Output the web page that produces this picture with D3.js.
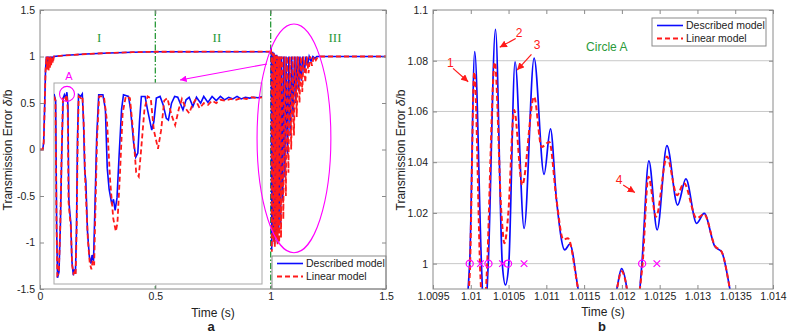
<!DOCTYPE html>
<html>
<head>
<meta charset="utf-8">
<script src="https://cdn.jsdelivr.net/npm/d3@7"></script>
<style>
  body { margin: 0; background: #fff; }
  svg { font-family: Arial, "Liberation Sans", sans-serif; }
</style>
</head>
<body>
<svg id="chart" width="790" height="334"></svg>
<script>
// ---------- data ----------

// panel a: main curves [time s, delta/b]
var mainBlue = [
  [0,0],[0.012,0],[0.016,0.08],[0.020,0.45],[0.024,0.86],[0.028,1.0],[0.031,0.9],[0.034,1.0],
  [0.037,0.91],[0.040,1.0],[0.043,0.93],[0.046,1.0],[0.049,0.95],[0.052,1.0],[0.056,0.97],[0.060,1.0],
  [0.1,1.01],[0.2,1.027],[0.3,1.038],[0.4,1.046],[0.5,1.051],[1.0,1.052],
  [1.0015,1.09],[1.003,1.0],[1.0045,-1.08],[1.006,1.0],[1.0085,1.05],[1.011,-0.95],[1.014,1.04],
  [1.017,-1.02],[1.020,1.02],[1.023,-0.9],[1.026,1.02],[1.029,-1.0],[1.032,1.0],[1.035,-0.85],
  [1.039,1.0],[1.043,-0.8],[1.047,1.0],[1.052,-0.55],[1.057,1.0],[1.062,-0.3],[1.067,1.0],
  [1.073,-0.05],[1.079,1.0],[1.085,0.15],[1.091,1.0],[1.097,0.35],[1.103,1.0],[1.109,0.5],
  [1.115,1.0],[1.121,0.63],[1.127,1.0],[1.133,0.74],[1.139,1.0],[1.146,0.83],[1.153,1.0],
  [1.160,0.9],[1.167,1.0],[1.175,0.95],[1.183,1.0],[1.192,0.98],[1.20,1.0],[1.5,1.0]
];
var mainRed = [
  [0,0],[0.012,0],[0.016,0.07],[0.020,0.42],[0.024,0.84],[0.028,1.0],[0.031,0.86],[0.034,1.0],
  [0.037,0.85],[0.040,1.0],[0.043,0.88],[0.046,1.0],[0.049,0.9],[0.052,1.0],[0.056,0.93],[0.060,1.0],
  [0.1,1.01],[0.2,1.027],[0.3,1.038],[0.4,1.046],[0.5,1.051],[1.0,1.052],
  [1.0015,1.08],[1.0035,1.0],[1.005,-1.1],[1.0065,1.0],[1.009,1.04],[1.012,-1.0],[1.015,1.03],
  [1.018,-1.05],[1.021,1.02],[1.024,-0.95],[1.027,1.01],[1.030,-1.02],[1.033,1.0],[1.037,-1.0],
  [1.041,1.0],[1.045,-0.95],[1.049,1.0],[1.055,-0.75],[1.060,1.0],[1.066,-0.5],[1.071,1.0],
  [1.077,-0.25],[1.083,1.0],[1.089,0.0],[1.095,1.0],[1.101,0.15],[1.107,1.0],[1.113,0.35],
  [1.119,1.0],[1.125,0.5],[1.131,1.0],[1.137,0.62],[1.143,1.0],[1.150,0.72],[1.157,1.0],
  [1.164,0.82],[1.171,1.0],[1.179,0.9],[1.187,1.0],[1.196,0.96],[1.205,1.0],[1.5,1.0]
];

// panel a: inset (zoomed view of region III)
var insetBlue = [
  [1.0000,1.03],[1.0016,0.95],[1.0026,-0.6],[1.0034,-1.15],[1.0048,-1.08],[1.0062,-0.5],[1.0074,0.3],
  [1.0088,0.98],[1.0100,1.02],[1.0112,0.98],[1.0124,1.05],[1.0134,0.9],[1.0142,-0.2],[1.0150,-0.35],
  [1.0162,-0.5],[1.0172,-0.95],[1.0186,-1.12],[1.0196,-1.05],[1.0206,-1.1],[1.0216,-0.6],[1.0226,0.5],
  [1.0236,1.02],[1.0256,1.0],[1.0272,1.03],[1.0284,0.7],[1.0296,0.1],[1.0306,0.0],[1.0322,-0.6],
  [1.0340,-0.9],[1.0356,-0.98],[1.0366,-0.88],[1.0380,-0.95],[1.0394,-0.3],[1.0410,0.5],[1.0430,1.02],
  [1.0470,1.02],[1.0494,0.85],[1.0512,0.15],[1.0530,-0.1],[1.0556,-0.28],[1.0572,-0.22],[1.0588,-0.35],
  [1.0606,-0.2],[1.0626,0.3],[1.0650,0.85],[1.0668,1.02],[1.0716,1.0],[1.0736,0.85],[1.0766,0.45],
  [1.0786,0.28],[1.0806,0.33],[1.0822,0.7],[1.0840,1.0],[1.0876,1.0],[1.0898,0.85],[1.0940,0.6],
  [1.0960,0.7],[1.0984,0.98],[1.1020,1.0],[1.1050,0.9],[1.1080,0.74],[1.1100,0.72],[1.1130,0.92],
  [1.1160,1.0],[1.1190,0.99],[1.1240,0.84],[1.1270,0.96],[1.1300,0.99],[1.1335,0.88],[1.1370,0.99],
  [1.1410,0.92],[1.1440,1.0],[1.1480,0.93],[1.1520,1.0],[1.1560,0.95],[1.1600,1.0],[1.1640,0.96],
  [1.1680,0.99],[1.1720,0.97],[1.1760,1.0],[1.1800,0.97],[1.1840,0.99],[1.1880,0.98],[1.1920,0.99],
  [1.1960,0.985],[1.2000,0.995]
];
var insetRed = [
  [1.0000,1.0],[1.0014,0.95],[1.0024,-0.5],[1.0032,-1.12],[1.0046,-1.1],[1.0060,-0.55],[1.0072,0.25],
  [1.0086,0.98],[1.0100,1.0],[1.0112,0.97],[1.0122,1.02],[1.0132,0.85],[1.0140,-0.25],[1.0150,-0.4],
  [1.0162,-0.55],[1.0174,-1.0],[1.0188,-1.1],[1.0198,-1.08],[1.0208,-1.12],[1.0218,-0.55],[1.0228,0.5],
  [1.0238,1.0],[1.0258,0.98],[1.0274,1.0],[1.0288,0.6],[1.0300,0.0],[1.0326,-0.7],[1.0344,-0.98],
  [1.0360,-1.05],[1.0372,-0.95],[1.0386,-1.0],[1.0398,-0.35],[1.0414,0.5],[1.0434,1.0],[1.0480,1.0],
  [1.0510,0.7],[1.0540,0.0],[1.0570,-0.45],[1.0595,-0.6],[1.0610,-0.5],[1.0635,0.1],[1.0660,0.8],
  [1.0690,1.0],[1.0730,0.98],[1.0760,0.6],[1.0790,0.1],[1.0815,0.05],[1.0840,0.4],[1.0870,0.85],
  [1.0900,1.0],[1.0930,0.98],[1.0960,0.6],[1.1000,0.38],[1.1030,0.6],[1.1060,0.95],[1.1090,0.98],
  [1.1130,0.78],[1.1165,0.66],[1.1200,0.85],[1.1230,0.97],[1.1270,0.85],[1.1300,0.8],[1.1330,0.9],
  [1.1360,0.96],[1.1400,0.86],[1.1440,0.92],[1.1480,0.9],[1.1520,0.95],[1.1560,0.92],[1.1600,0.96],
  [1.1650,0.95],[1.1700,0.97],[1.1750,0.96],[1.1800,0.98],[1.1850,0.97],[1.1900,0.99],[1.1950,0.98],
  [1.2000,0.99]
];

// panel b: circle A detail
var detailBlue = [
  [1.009841,0.960],[1.009985,1.000],[1.010052,1.0836],[1.010141,1.000],[1.010179,0.975],[1.010231,1.000],
  [1.010327,1.0924],[1.010417,1.000],[1.010459,0.9916],[1.010503,1.000],[1.010586,1.0796],
  [1.010706,1.0139],[1.010838,1.0810],[1.010970,1.0352],[1.011055,1.0531],[1.011135,1.025],
  [1.011245,1.0054],[1.011311,1.0077],[1.011421,0.990],[1.011634,0.960],[1.011933,0.990],
  [1.011995,0.998],[1.012066,0.990],[1.012136,0.970],[1.012238,0.990],[1.012265,1.000],
  [1.012357,1.0405],[1.012467,1.0133],[1.012596,1.0465],[1.012737,1.0231],[1.012847,1.0334],
  [1.012989,1.0159],[1.013089,1.0198],[1.013231,1.0067],[1.013320,1.0047],[1.013429,0.990],[1.013580,0.960]
];
var detailRed = [
  [1.009841,0.960],[1.009985,0.995],[1.010046,1.0755],[1.010128,0.995],[1.010169,0.975],[1.010210,0.995],
  [1.010318,1.0794],[1.010405,1.02],[1.010446,1.008],[1.010497,1.02],[1.010574,1.0606],
  [1.010681,1.031],[1.010838,1.0658],[1.010937,1.046],[1.011040,1.048],[1.011135,1.025],
  [1.011224,1.0095],[1.011286,1.0100],[1.011421,0.990],[1.011634,0.960],[1.011933,0.990],
  [1.011995,0.997],[1.012066,0.990],[1.012136,0.970],[1.012238,0.990],[1.012274,1.000],
  [1.012351,1.0343],[1.012453,1.0185],[1.012596,1.0422],[1.012730,1.0270],[1.012822,1.0317],
  [1.012989,1.0179],[1.013089,1.0195],[1.013231,1.0070],[1.013320,1.0047],[1.013429,0.990],[1.013580,0.960]
];
var contactCircles = [1.009986, 1.010234, 1.010493, 1.012268];
var contactCrosses = [1.010128, 1.010419, 1.010705, 1.012463];

// ticks
var leftXTicks = [0, 0.5, 1, 1.5];
var leftXLabels = ["0", "0.5", "1", "1.5"];
var leftYTicks = [-1.5, -1, -0.5, 0, 0.5, 1, 1.5];
var leftYLabels = ["-1.5", "-1", "-0.5", "0", "0.5", "1", "1.5"];
var rightXTicks = [1.0095, 1.01, 1.0105, 1.011, 1.0115, 1.012, 1.0125, 1.013, 1.0135, 1.014];
var rightXLabels = ["1.0095", "1.01", "1.0105", "1.011", "1.0115", "1.012", "1.0125", "1.013", "1.0135", "1.014"];
var rightYTicks = [1, 1.02, 1.04, 1.06, 1.08, 1.1];
var rightYLabels = ["1", "1.02", "1.04", "1.06", "1.08", "1.1"];

// regions and annotations (data units)
var regionLines = [0.5, 1.0];
var regionNames = ["I", "II", "III"];
var regionNameX = [0.256, 0.767, 1.279];
var ellipseIII = [1.101, 0.12, 0.16, 1.23];      // cx, cy, rx, ry
var zoomArrow = [[0.984, 0.92], [0.607, 0.748]];
var circleAPos = [1.0125, 1.03];
var peakLabels = ["1", "2", "3", "4"];
var peakLabelPos = [[1.00973, 1.079], [1.010639, 1.0910], [1.010877, 1.0861], [1.011964, 1.0332]];
var peakArrows = [
  [[1.009765, 1.077], [1.009966, 1.0717]],
  [[1.010595, 1.0888], [1.010383, 1.0853]],
  [[1.010803, 1.0825], [1.010613, 1.0763]],
  [[1.012017, 1.0310], [1.012172, 1.0280]]
];
var seriesNames = ["Described model", "Linear model"];

// ---------- drawing ----------
var BLUE = "#0a0aff", RED = "#ff1a1a", MAG = "#ff00ff", GREEN = "#2a9a3a", AX = "#8a8a8a";

var svg = d3.select("#chart");
var defs = svg.append("defs");

function marker(id, color) {
  defs.append("marker")
    .attr("id", id)
    .attr("viewBox", "0 0 10 10")
    .attr("refX", 10).attr("refY", 5)
    .attr("markerWidth", 6).attr("markerHeight", 6)
    .attr("orient", "auto")
    .append("path")
    .attr("d", "M0,0 L10,5 L0,10 z")
    .style("fill", color);
}
marker("arrM", MAG);
marker("arrR", RED);

function clip(id, x0, y0, x1, y1) {
  defs.append("clipPath").attr("id", id)
    .append("rect").attr("x", x0).attr("y", y0).attr("width", x1 - x0).attr("height", y1 - y0);
}

function drawAxes(g, x, y, xt, xl, yt, yl) {
  var x0 = x.range()[0], x1 = x.range()[1], y0 = y.range()[1], y1 = y.range()[0];
  var bottom = g.append("g").attr("transform", "translate(0," + y1 + ")")
    .call(d3.axisBottom(x).tickValues(xt).tickFormat(function (d, i) { return xl[i]; }).tickSize(-4).tickPadding(4));
  var top = g.append("g").attr("transform", "translate(0," + y0 + ")")
    .call(d3.axisTop(x).tickValues(xt).tickFormat("").tickSize(-4));
  var left = g.append("g").attr("transform", "translate(" + x0 + ",0)")
    .call(d3.axisLeft(y).tickValues(yt).tickFormat(function (d, i) { return yl[i]; }).tickSize(-4).tickPadding(5));
  var right = g.append("g").attr("transform", "translate(" + x1 + ",0)")
    .call(d3.axisRight(y).tickValues(yt).tickFormat("").tickSize(-4));
  [bottom, top, left, right].forEach(function (a) {
    a.select(".domain").remove();
    a.selectAll("line").style("stroke", AX);
    a.selectAll("text").style("font-size", "10.5px").style("fill", "#222");
  });
  g.append("rect")
    .attr("x", x0).attr("y", y0).attr("width", x1 - x0).attr("height", y1 - y0)
    .style("fill", "none").style("stroke", AX).style("stroke-width", 1);
}

function legend(g, x0, y0, w, h) {
  g.append("rect").attr("x", x0).attr("y", y0).attr("width", w).attr("height", h)
    .style("fill", "#fff").style("stroke", AX);
  [0, 1].forEach(function (i) {
    var yy = y0 + 7.5 + i * 13;
    g.append("line").attr("x1", x0 + 5).attr("x2", x0 + 31).attr("y1", yy).attr("y2", yy)
      .style("stroke", i ? RED : BLUE).style("stroke-width", i ? 2 : 1.6)
      .style("stroke-dasharray", i ? "5,3" : null);
    g.append("text").attr("x", x0 + 34).attr("y", yy).attr("dy", "0.35em")
      .style("font-size", "10.5px").style("fill", "#222").text(seriesNames[i]);
  });
}

function yTitle(g, x, y) {
  var t = g.append("text").attr("transform", "translate(" + x + "," + y + ") rotate(-90)")
    .attr("text-anchor", "middle").style("font-size", "12px").style("fill", "#222");
  t.append("tspan").text("Transmission Error ");
  t.append("tspan").style("font-style", "italic").text("\u03b4");
  t.append("tspan").text("/b");
}

// ===== panel a =====
var xL = d3.scaleLinear().domain([0, 1.5]).range([40, 386]);
var yL = d3.scaleLinear().domain([-1.5, 1.5]).range([289, 10]);
var gA = svg.append("g");
clip("clipA", 40, 10, 386, 289);

gA.selectAll(".region")
  .data(regionLines).enter().append("line")
  .attr("x1", xL).attr("x2", xL).attr("y1", yL(1.5)).attr("y2", yL(-1.5))
  .style("stroke", GREEN).style("stroke-width", 1.3).style("stroke-dasharray", "6,2,1.5,2");

var lineA = d3.line().x(function (d) { return xL(d[0]); }).y(function (d) { return yL(d[1]); });
var curvesA = gA.append("g").attr("clip-path", "url(#clipA)");
curvesA.append("path").attr("d", lineA(mainBlue))
  .style("fill", "none").style("stroke", BLUE).style("stroke-width", 1.6);
curvesA.append("path").attr("d", lineA(mainRed))
  .style("fill", "none").style("stroke", RED).style("stroke-width", 1.8).style("stroke-dasharray", "5,3");

// inset
var xI = d3.scaleLinear().domain([1.0, 1.2]).range([54, 262]);
var yI = d3.scaleLinear().domain([-1.2, 1.1]).range([282, 88]);
gA.append("rect").attr("x", 54).attr("y", 83).attr("width", 208).attr("height", 201)
  .style("fill", "#fff").style("stroke", "#a8a8a8").style("stroke-width", 1);
clip("clipI", 54, 83, 262, 284);
var lineI = d3.line().x(function (d) { return xI(d[0]); }).y(function (d) { return yI(d[1]); });
var curvesI = gA.append("g").attr("clip-path", "url(#clipI)");
curvesI.append("path").attr("d", lineI(insetBlue))
  .style("fill", "none").style("stroke", BLUE).style("stroke-width", 1.6);
curvesI.append("path").attr("d", lineI(insetRed))
  .style("fill", "none").style("stroke", RED).style("stroke-width", 1.8).style("stroke-dasharray", "5,3");

// annotations
gA.append("ellipse")
  .attr("cx", xL(ellipseIII[0])).attr("cy", yL(ellipseIII[1]))
  .attr("rx", xL(ellipseIII[0] + ellipseIII[2]) - xL(ellipseIII[0]))
  .attr("ry", yL(ellipseIII[1]) - yL(ellipseIII[1] + ellipseIII[3]))
  .style("fill", "none").style("stroke", MAG).style("stroke-width", 1.1);
gA.append("line")
  .attr("x1", xL(zoomArrow[0][0])).attr("y1", yL(zoomArrow[0][1]))
  .attr("x2", xL(zoomArrow[1][0])).attr("y2", yL(zoomArrow[1][1]))
  .style("stroke", MAG).style("stroke-width", 1.1).attr("marker-end", "url(#arrM)");
gA.append("circle").attr("cx", xI(circleAPos[0])).attr("cy", yI(circleAPos[1])).attr("r", 7.5)
  .style("fill", "none").style("stroke", MAG).style("stroke-width", 1.1);
gA.append("text").attr("x", xI(circleAPos[0]) + 2).attr("y", yI(circleAPos[1]) - 14)
  .attr("text-anchor", "middle").style("font-size", "11px").style("fill", MAG).text("A");

gA.selectAll(".roman").data(regionNames).enter().append("text")
  .attr("x", function (d, i) { return xL(regionNameX[i]); })
  .attr("y", yL(1.2)).attr("dy", "0.35em").attr("text-anchor", "middle")
  .style("font-family", "'Liberation Serif', 'DejaVu Serif', serif").style("font-size", "13px")
  .style("fill", GREEN).text(function (d) { return d; });

legend(gA, 272, 256, 114, 33);
drawAxes(gA, xL, yL, leftXTicks, leftXLabels, leftYTicks, leftYLabels);
yTitle(gA, 12, 150);
gA.append("text").attr("x", 213).attr("y", 317).attr("text-anchor", "middle")
  .style("font-size", "12px").style("fill", "#222").text("Time (s)");
gA.append("text").attr("x", 211).attr("y", 331).attr("text-anchor", "middle")
  .style("font-size", "13px").style("font-weight", "bold").style("fill", "#222").text("a");

// ===== panel b =====
var xR = d3.scaleLinear().domain([1.0095, 1.014]).range([433, 773]);
var yR = d3.scaleLinear().domain([0.99, 1.1]).range([289, 10]);
var gB = svg.append("g");
clip("clipB", 433, 10, 773, 289);

gB.selectAll(".grid").data(rightYTicks.slice(0, 5)).enter().append("line")
  .attr("x1", 433).attr("x2", 773).attr("y1", yR).attr("y2", yR)
  .style("stroke", "#c8c8c8").style("stroke-width", 1);

var lineB = d3.line().curve(d3.curveMonotoneX)
  .x(function (d) { return xR(d[0]); }).y(function (d) { return yR(d[1]); });
var curvesB = gB.append("g").attr("clip-path", "url(#clipB)");
curvesB.append("path").attr("d", lineB(detailBlue))
  .style("fill", "none").style("stroke", BLUE).style("stroke-width", 1.7);
curvesB.append("path").attr("d", lineB(detailRed))
  .style("fill", "none").style("stroke", RED).style("stroke-width", 2).style("stroke-dasharray", "5,3");

gB.selectAll(".ocirc").data(contactCircles).enter().append("path")
  .attr("transform", function (d) { return "translate(" + xR(d) + "," + yR(1) + ")"; })
  .attr("d", d3.symbol(d3.symbolCircle, 40))
  .style("fill", "none").style("stroke", MAG).style("stroke-width", 1.2);
gB.selectAll(".xmark").data(contactCrosses).enter().append("path")
  .attr("transform", function (d) { return "translate(" + xR(d) + "," + yR(1) + ")"; })
  .attr("d", d3.symbol(d3.symbolX, 30))
  .style("fill", "none").style("stroke", MAG).style("stroke-width", 1.2);

gB.selectAll(".parrow").data(peakArrows).enter().append("line")
  .attr("x1", function (d) { return xR(d[0][0]); }).attr("y1", function (d) { return yR(d[0][1]); })
  .attr("x2", function (d) { return xR(d[1][0]); }).attr("y2", function (d) { return yR(d[1][1]); })
  .style("stroke", RED).style("stroke-width", 1.2).attr("marker-end", "url(#arrR)");
gB.selectAll(".plabel").data(peakLabels).enter().append("text")
  .attr("x", function (d, i) { return xR(peakLabelPos[i][0]); })
  .attr("y", function (d, i) { return yR(peakLabelPos[i][1]); })
  .attr("dy", "0.35em").attr("text-anchor", "middle")
  .style("font-size", "12px").style("fill", RED).text(function (d) { return d; });

gB.append("text").attr("x", xR(1.0118)).attr("y", yR(1.0854)).attr("dy", "0.35em")
  .attr("text-anchor", "middle").style("font-size", "12px").style("fill", GREEN).text("Circle A");

legend(gB, 652, 18, 114, 28);
drawAxes(gB, xR, yR, rightXTicks, rightXLabels, rightYTicks, rightYLabels);
yTitle(gB, 405, 150);
gB.append("text").attr("x", 603).attr("y", 316).attr("text-anchor", "middle")
  .style("font-size", "12px").style("fill", "#222").text("Time (s)");
gB.append("text").attr("x", 602).attr("y", 331).attr("text-anchor", "middle")
  .style("font-size", "13px").style("font-weight", "bold").style("fill", "#222").text("b");
</script>
</body>
</html>
